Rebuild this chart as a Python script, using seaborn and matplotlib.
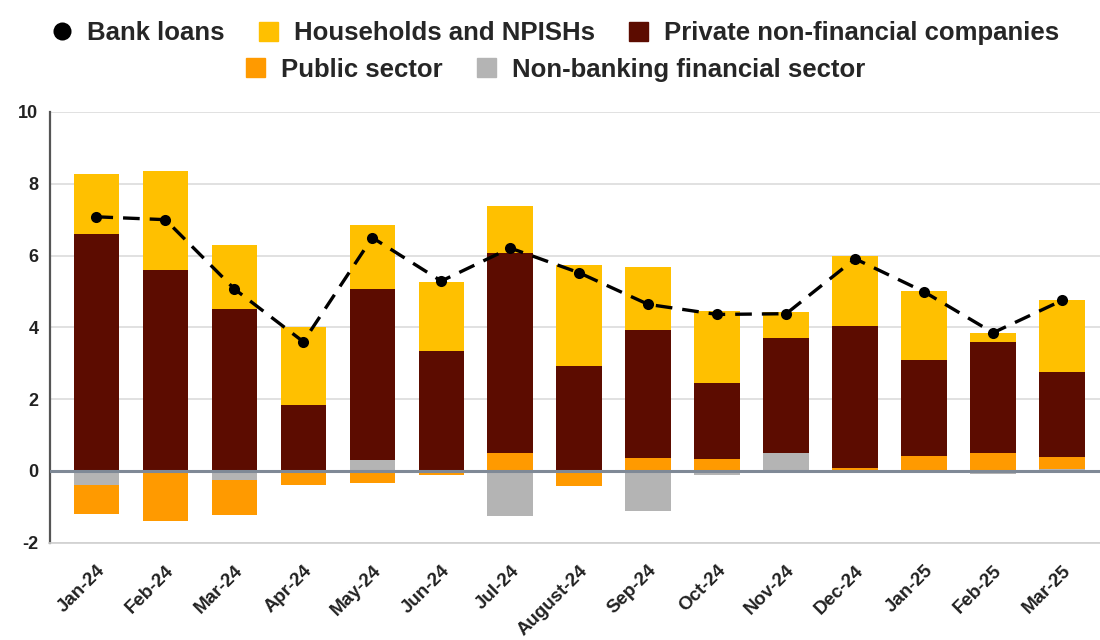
import numpy as np
import matplotlib
matplotlib.use("Agg")
import matplotlib.pyplot as plt
from matplotlib.lines import Line2D
from matplotlib.patches import Patch
import seaborn as sns

# Monthly contributions to bank loan growth (percentage points)
months = ["Jan-24", "Feb-24", "Mar-24", "Apr-24", "May-24", "Jun-24", "Jul-24",
          "August-24", "Sep-24", "Oct-24", "Nov-24", "Dec-24", "Jan-25", "Feb-25", "Mar-25"]
households = [1.69, 2.76, 1.77, 2.18, 1.80, 1.92, 1.33, 2.83, 1.77, 2.01, 0.72, 1.93, 1.92, 0.26, 2.00]
private_nfc = [6.59, 5.59, 4.52, 1.83, 4.76, 3.34, 5.55, 2.92, 3.55, 2.10, 3.21, 3.98, 2.67, 3.08, 2.36]
public_sector = [-0.79, -1.40, -0.97, -0.40, -0.35, -0.10, 0.51, -0.42, 0.37, 0.34, -0.05, 0.07, 0.42, 0.51, 0.33]
nonbank_fin = [-0.40, 0.00, -0.26, 0.00, 0.30, 0.00, -1.25, 0.00, -1.11, -0.12, 0.50, 0.00, 0.00, -0.08, 0.06]
bank_loans = [7.08, 7.00, 5.07, 3.60, 6.50, 5.29, 6.21, 5.52, 4.64, 4.36, 4.38, 5.91, 4.99, 3.85, 4.75]

C_HH = "#FFC000"
C_PNFC = "#5C0C00"
C_PUB = "#FF9A00"
C_NBF = "#B4B4B4"

sns.set_theme(style="white")
plt.rcParams["font.family"] = ["Liberation Sans", "DejaVu Sans"]
plt.rcParams["font.weight"] = "bold"
plt.rcParams["axes.unicode_minus"] = False

fig = plt.figure(figsize=(11, 6.4), dpi=100)
ax = fig.add_axes([0.045, 0.152, 0.955, 0.673])

# stack order from zero outward: non-bank, public, private, households
layers = [(nonbank_fin, C_NBF), (public_sector, C_PUB), (private_nfc, C_PNFC), (households, C_HH)]
pos_base = np.zeros(len(months))
neg_base = np.zeros(len(months))
x = np.arange(len(months))
for vals, col in layers:
    v = np.asarray(vals, dtype=float)
    bottom = np.where(v >= 0, pos_base, neg_base)
    sns.barplot(x=months, y=v, bottom=bottom, color=col, width=0.66,
                saturation=1, ax=ax, linewidth=0, zorder=3)
    pos_base = pos_base + np.clip(v, 0, None)
    neg_base = neg_base + np.clip(v, None, 0)

sns.lineplot(x=x, y=bank_loans, ax=ax, color="black", linewidth=2.4,
             marker="o", markersize=8, markeredgewidth=0, zorder=5)
ax.lines[-1].set_dashes([5, 3])

ax.set_xlim(-0.68, 14.55)
ax.set_ylim(-2, 10)
ax.set_yticks([-2, 0, 2, 4, 6, 8, 10])
ax.yaxis.grid(True, color="#DCDCDC", linewidth=1.2, zorder=0)
ax.set_axisbelow(True)
ax.axhline(0, color="#7F8996", linewidth=2.2, zorder=4)

for s in ["top", "right"]:
    ax.spines[s].set_visible(False)
ax.spines["left"].set_color("#555555")
ax.spines["left"].set_linewidth(1.6)
ax.spines["bottom"].set_color("#CFCFCF")
ax.spines["bottom"].set_linewidth(1.2)

ax.tick_params(axis="y", length=0, pad=8, labelsize=13, labelcolor="#222222")
ax.tick_params(axis="x", length=0, pad=14, labelsize=13.5, labelcolor="#222222")
for lab in ax.get_yticklabels():
    lab.set_fontweight("bold")
for lab in ax.get_xticklabels():
    lab.set_rotation(45)
    lab.set_ha("right")
    lab.set_rotation_mode("anchor")
    lab.set_fontweight("bold")
ax.set_xlabel("")
ax.set_ylabel("")

legend_kw = dict(frameon=False, prop={"size": 18.5, "weight": "bold"}, handlelength=0.75,
                 handleheight=0.75, handletextpad=0.6, columnspacing=1.35, borderaxespad=0)
row1 = [Line2D([0], [0], marker="o", color="none", markerfacecolor="black",
               markeredgewidth=0, markersize=13),
        Patch(color=C_HH), Patch(color=C_PNFC)]
fig.legend(row1, ["Bank loans", "Households and NPISHs", "Private non-financial companies"],
           loc="center", bbox_to_anchor=(0.505, 0.948), ncol=3, **legend_kw)
row2 = [Patch(color=C_PUB), Patch(color=C_NBF)]
fig.legend(row2, ["Public sector", "Non-banking financial sector"],
           loc="center", bbox_to_anchor=(0.505, 0.891), ncol=2, **legend_kw)

fig.savefig("out.png", dpi=100, facecolor="white")
